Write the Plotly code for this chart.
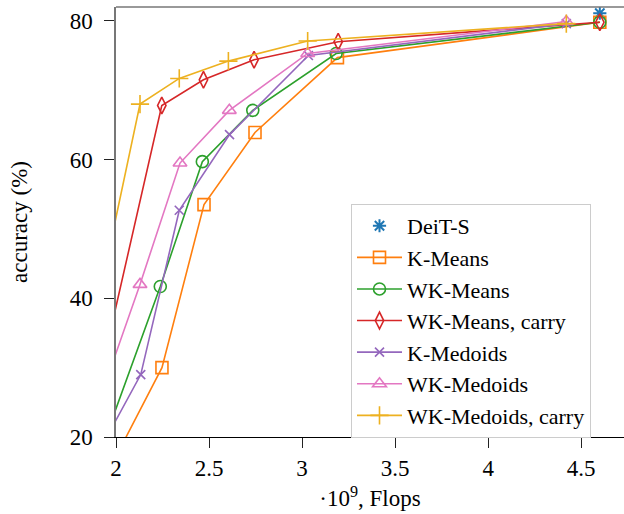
import plotly.graph_objects as go

# ---- data ----
deit_flops = [4.6]
deit_acc = [81.1]

kmeans_flops = [1.9, 2.247, 2.473, 2.747, 3.19, 4.6]
kmeans_acc = [12.0, 30.0, 53.5, 63.9, 74.7, 79.8]

wkmeans_flops = [1.9, 2.238, 2.464, 2.735, 3.183, 4.6]
wkmeans_acc = [16.7, 41.7, 59.7, 67.1, 75.3, 79.8]

wkmeans_carry_flops = [1.9, 2.246, 2.47, 2.742, 3.194, 4.6]
wkmeans_carry_acc = [27.0, 67.8, 71.5, 74.4, 77.0, 79.8]

kmedoids_flops = [1.9, 2.133, 2.34, 2.61, 3.034, 4.42]
kmedoids_acc = [17.5, 29.0, 52.7, 63.6, 75.0, 79.6]

wkmedoids_flops = [1.9, 2.129, 2.344, 2.609, 3.03, 4.42]
wkmedoids_acc = [24.4, 42.0, 59.5, 67.1, 75.3, 79.9]

wkmedoids_carry_flops = [1.9, 2.129, 2.34, 2.604, 3.03, 4.42]
wkmedoids_carry_acc = [39.0, 68.0, 71.7, 74.2, 77.1, 79.6]

x_ticks = [2, 2.5, 3, 3.5, 4, 4.5]
x_ticktext = ["2", "2.5", "3", "3.5", "4", "4.5"]
y_ticks = [20, 40, 60, 80]

FONT = "Liberation Serif"

fig = go.Figure()

fig.add_trace(go.Scatter(
    x=deit_flops, y=deit_acc, mode="markers", name="DeiT-S",
    marker=dict(symbol="asterisk-open", size=11, color="#1f77b4",
                line=dict(color="#1f77b4", width=2)),
))

series = [
    ("K-Means", kmeans_flops, kmeans_acc, "#ff7f0e", "square-open", 12),
    ("WK-Means", wkmeans_flops, wkmeans_acc, "#2ca02c", "circle-open", 12),
    ("WK-Means, carry", wkmeans_carry_flops, wkmeans_carry_acc, "#d62728", "diamond-tall-open", 12),
    ("K-Medoids", kmedoids_flops, kmedoids_acc, "#9467bd", "x-thin-open", 9),
    ("WK-Medoids", wkmedoids_flops, wkmedoids_acc, "#e377c2", "triangle-up-open", 12),
    ("WK-Medoids, carry", wkmedoids_carry_flops, wkmedoids_carry_acc, "#edb120", "cross-thin-open", 13),
]
for name, xs, ys, col, sym, sz in series:
    fig.add_trace(go.Scatter(
        x=xs, y=ys, mode="lines+markers", name=name,
        line=dict(color=col, width=1.6),
        marker=dict(symbol=sym, size=sz, color=col, line=dict(color=col, width=1.6)),
    ))

fig.update_layout(
    width=624, height=514,
    margin=dict(l=116, r=0, t=7, b=77, autoexpand=False),
    paper_bgcolor="white", plot_bgcolor="white",
    font=dict(family=FONT, size=23, color="black"),
    showlegend=True,
    legend=dict(
        x=0.4626, y=0.542, xanchor="left", yanchor="top",
        bgcolor="white", bordercolor="#cccccc", borderwidth=1,
        font=dict(family=FONT, size=22, color="black"),
        itemwidth=45,
    ),
    xaxis=dict(
        range=[2, 4.73], tickvals=x_ticks, ticktext=x_ticktext,
        ticks="outside", ticklen=10, tickwidth=1, tickcolor="#222222",
        showline=True, linecolor="black", linewidth=1.2,
        showgrid=False, zeroline=False, automargin=False,
        tickfont=dict(family=FONT, size=23),
        title=dict(text="·10<sup>9</sup>, Flops", font=dict(family=FONT, size=23), standoff=10),
    ),
    yaxis=dict(
        range=[20, 82], tickvals=y_ticks,
        ticks="outside", ticklen=10, tickwidth=1, tickcolor="#222222",
        showline=True, linecolor="#777777", linewidth=1.5,
        showgrid=False, zeroline=False, automargin=False,
        ticklabelstandoff=7,
        tickfont=dict(family=FONT, size=23),
        title=dict(text="accuracy (%)", font=dict(family=FONT, size=23), standoff=36),
    ),
    shapes=[dict(type="line", xref="paper", yref="paper", x0=0, x1=1, y0=1, y1=1,
                 line=dict(color="#777777", width=1.5))],
)

fig.write_html("out.html", config={"displayModeBar": False},
               post_script="document.body.style.margin='0';")
